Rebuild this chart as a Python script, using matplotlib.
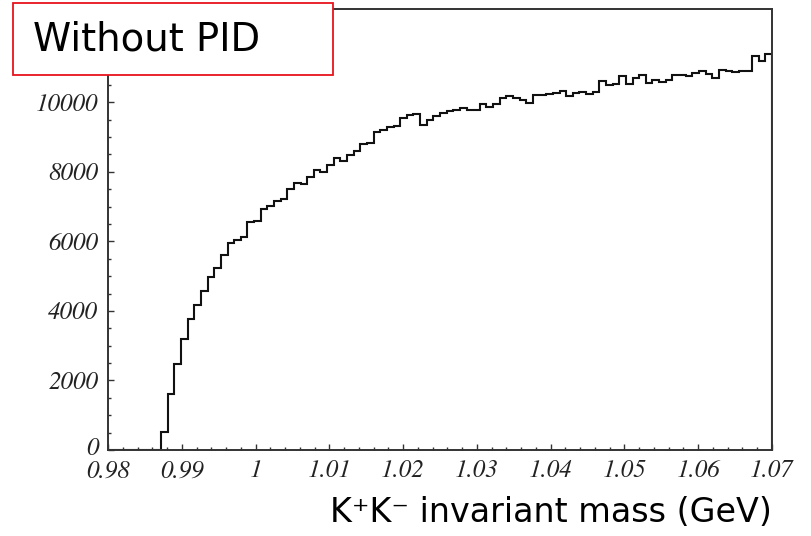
import numpy as np
import matplotlib
matplotlib.use("Agg")
import matplotlib.pyplot as plt
from matplotlib.patches import Rectangle
from matplotlib.ticker import MultipleLocator
from matplotlib.transforms import ScaledTranslation

# K+K- invariant mass histogram, no particle identification applied
mass_lo = 0.98          # GeV
mass_hi = 1.07          # GeV
n_bins = 100

counts = [
    0, 0, 0, 0, 0, 0, 0, 0,
    510, 1600, 2480, 3200, 3765, 4167, 4570, 4980, 5245, 5604,
    5940, 6035, 6120, 6545, 6590, 6920, 7010, 7165, 7233, 7501,
    7665, 7645, 7856, 8047, 7990, 8191, 8411, 8315, 8478, 8602,
    8794, 8832, 9148, 9197, 9292, 9321, 9551, 9628, 9676, 9360,
    9504, 9599, 9695, 9753, 9791, 9849, 9772, 9772, 9944, 9867,
    9944, 10120, 10174, 10136, 10059, 9982, 10212, 10212, 10240, 10260,
    10327, 10183, 10269, 10289, 10251, 10289, 10605, 10490, 10518, 10768,
    10518, 10711, 10777, 10556, 10634, 10585, 10653, 10797, 10797, 10749,
    10844, 10892, 10826, 10711, 10921, 10902, 10864, 10902, 10902, 11323,
    11189, 11381,
]

x_ticks = [0.98, 0.99, 1.00, 1.01, 1.02, 1.03, 1.04, 1.05, 1.06, 1.07]
x_tick_labels = ["0.98", "0.99", "1", "1.01", "1.02", "1.03", "1.04", "1.05", "1.06", "1.07"]
y_ticks = [0, 2000, 4000, 6000, 8000, 10000]
y_tick_labels = ["0", "2000", "4000", "6000", "8000", "10000"]

title_text = "Without PID"
xlabel_text = "K\u207aK\u207b invariant mass (GeV)"

edges = np.linspace(mass_lo, mass_hi, n_bins + 1)

W, H = 811, 536
fig = plt.figure(figsize=(W / 100, H / 100), dpi=100)
ax = fig.add_axes([108 / W, 1 - 450 / H, (772 - 108) / W, (450 - 9.3) / H])

ax.stairs(counts, edges, color="#111111", linewidth=1.5)

ax.set_xlim(mass_lo, mass_hi)
ax.set_ylim(0, 12675)

frame_col = "#333333"
for s in ax.spines.values():
    s.set_color(frame_col)
    s.set_linewidth(1.4)

tick_font = dict(family="STIXGeneral", style="italic", size=18, color="#222222")
ax.set_xticks(x_ticks, x_tick_labels, **tick_font)
ax.set_yticks(y_ticks, y_tick_labels, **tick_font)
ax.xaxis.set_minor_locator(MultipleLocator(0.002))
ax.yaxis.set_minor_locator(MultipleLocator(500))

ax.tick_params(which="both", direction="in", colors=frame_col, width=1.0,
               top=False, right=False, labelcolor="#222222")
ax.tick_params(which="major", length=4.5)
ax.tick_params(which="minor", length=2.5)
ax.tick_params(axis="y", which="major", pad=7)
ax.tick_params(axis="x", which="major", pad=7.5)

# lift the "0" label a little so it clears the first x label
zero_label = ax.yaxis.get_major_ticks()[0].label1
zero_label.set_transform(zero_label.get_transform()
                         + ScaledTranslation(0, 4 / 100, fig.dpi_scale_trans))

# Boxed title in the upper-left corner
box = Rectangle((13 / W, 1 - 75 / H), (333 - 13) / W, (75 - 3.3) / H,
                transform=fig.transFigure, facecolor="white",
                edgecolor="#e8141c", linewidth=1.3, zorder=10)
fig.patches.append(box)
fig.text(33 / W, 1 - 39.5 / H, title_text, fontsize=27.8, family="DejaVu Sans",
         ha="left", va="center", color="black", zorder=11)

fig.text(330 / W, 1 - 513 / H, xlabel_text, fontsize=24, family="DejaVu Sans",
         ha="left", va="center", color="black")

fig.savefig("out.png", dpi=100, facecolor="white")
